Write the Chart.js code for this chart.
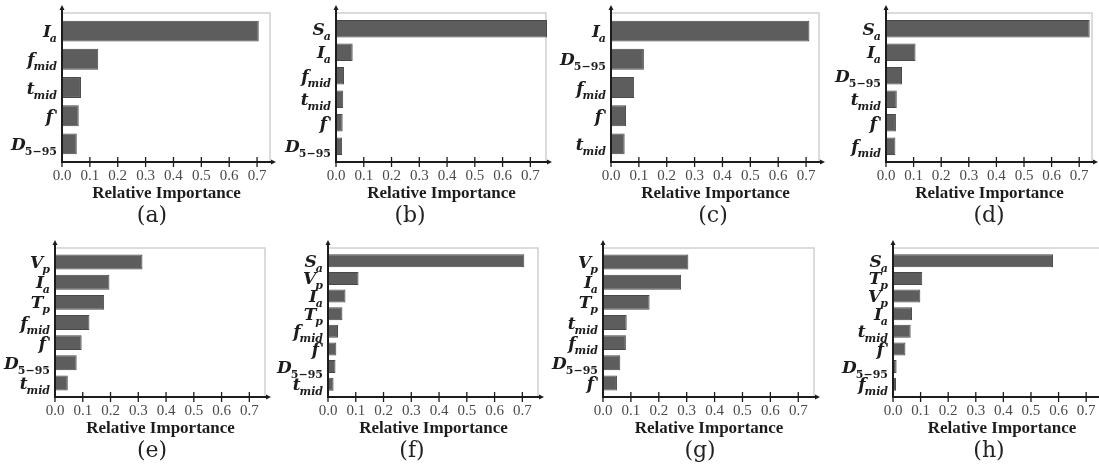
<!DOCTYPE html>
<html>
<head>
<meta charset="utf-8">
<script src="https://cdn.jsdelivr.net/npm/chart.js@4.4.1/dist/chart.umd.min.js"></script>
<style>
  html, body { margin: 0; padding: 0; background: #ffffff; }
  body { position: relative; width: 1099px; height: 469px; overflow: hidden; }
  canvas { position: absolute; }
</style>
</head>
<body>
<script>
// Relative importance of ground-motion features, eight models (a)-(h)
const tickValues = [0, 0.1, 0.2, 0.3, 0.4, 0.5, 0.6, 0.7];
const axisTitle = 'Relative Importance';
const panelTags = ['(a)', '(b)', '(c)', '(d)', '(e)', '(f)', '(g)', '(h)'];

const featuresA = ['I_a', 'f_mid', 't_mid', "f'", 'D_5−95'];
const importanceA = [0.706, 0.130, 0.068, 0.060, 0.053];

const featuresB = ['S_a', 'I_a', 'f_mid', 't_mid', "f'", 'D_5−95'];
const importanceB = [0.760, 0.060, 0.029, 0.026, 0.024, 0.022];

const featuresC = ['I_a', 'D_5−95', 'f_mid', "f'", 't_mid'];
const importanceC = [0.712, 0.118, 0.083, 0.054, 0.049];

const featuresD = ['S_a', 'I_a', 'D_5−95', 't_mid', "f'", 'f_mid'];
const importanceD = [0.738, 0.107, 0.058, 0.039, 0.036, 0.034];

const featuresE = ['V_p', 'I_a', 'T_p', 'f_mid', "f'", 'D_5−95', 't_mid'];
const importanceE = [0.315, 0.196, 0.177, 0.124, 0.096, 0.078, 0.046];

const featuresF = ['S_a', 'V_p', 'I_a', 'T_p', 'f_mid', "f'", 'D_5−95', 't_mid'];
const importanceF = [0.707, 0.110, 0.063, 0.052, 0.036, 0.030, 0.027, 0.020];

const featuresG = ['V_p', 'I_a', 'T_p', 't_mid', 'f_mid', 'D_5−95', "f'"];
const importanceG = [0.306, 0.280, 0.167, 0.085, 0.082, 0.062, 0.050];

const featuresH = ['S_a', 'T_p', 'V_p', 'I_a', 't_mid', "f'", 'D_5−95', 'f_mid'];
const importanceH = [0.580, 0.106, 0.099, 0.069, 0.064, 0.045, 0.013, 0.011];

const featureSets = [featuresA, featuresB, featuresC, featuresD, featuresE, featuresF, featuresG, featuresH];
const importanceSets = [importanceA, importanceB, importanceC, importanceD, importanceE, importanceF, importanceG, importanceH];
const axisMax = [0.75, 0.76, 0.75, 0.75, 0.76, 0.76, 0.76, 0.79];

// Page placement of each panel: y-axis x, row top, pixels per unit on x, caption centre x
const placement = [
  { axisX: 62,  rowTop: 0,   ppu: 279, tagX: 152 },
  { axisX: 336, rowTop: 0,   ppu: 277, tagX: 410 },
  { axisX: 611, rowTop: 0,   ppu: 279, tagX: 713 },
  { axisX: 886, rowTop: 0,   ppu: 276, tagX: 989 },
  { axisX: 55,  rowTop: 235, ppu: 277, tagX: 152 },
  { axisX: 328, rowTop: 235, ppu: 277, tagX: 412 },
  { axisX: 603, rowTop: 235, ppu: 279, tagX: 700 },
  { axisX: 893, rowTop: 235, ppu: 276, tagX: 989 }
];

const PAD_LEFT = 62, PAD_RIGHT = 12, AREA_TOP = 17, AREA_BOTTOM = 158, ROW_H = 235;
const X_BOTTOM = 202.5;          // bottom edge of the x scale box
const TAG_Y = 216;

const INK = '#1c1c1c';
const FRAME = '#d0d0d0';

// Feature name drawn as italic symbol with subscript / prime
function drawFeature(ctx, text, xRight, yMid) {
  const mainFont = 'italic bold 17px "DejaVu Serif"';
  const subItalic = 'italic bold 11px "DejaVu Serif"';
  const subUpright = 'bold 11px "DejaVu Serif"';
  const primeFont = 'bold 13px "DejaVu Serif"';
  let main = text, sub = '', prime = false;
  if (text.endsWith("'")) { main = text.slice(0, -1); prime = true; }
  const k = main.indexOf('_');
  if (k >= 0) { sub = main.slice(k + 1); main = main.slice(0, k); }
  const subFont = /^[0-9]/.test(sub) ? subUpright : subItalic;
  ctx.save();
  ctx.fillStyle = INK;
  ctx.textBaseline = 'alphabetic';
  ctx.textAlign = 'left';
  ctx.font = primeFont;
  const wPrime = prime ? ctx.measureText("'").width + 1 : 0;
  ctx.font = mainFont;
  const wMain = ctx.measureText(main).width;
  ctx.font = subFont;
  const wSub = sub ? ctx.measureText(sub).width : 0;
  let x = xRight - (wMain + wSub + wPrime);
  ctx.font = mainFont;
  ctx.fillText(main, x, yMid + 6);
  x += wMain;
  if (sub) {
    ctx.font = subFont;
    ctx.fillText(sub, x - 1, yMid + 11);
  }
  if (prime) {
    ctx.font = primeFont;
    ctx.fillText("'", x + 1, yMid + 4);
  }
  ctx.restore();
}

// Axes with arrows, crossing tick marks, light frame, feature names and caption
const axesPlugin = {
  id: 'axesPlugin',
  beforeDatasetsDraw(chart) {
    const { ctx, chartArea: a } = chart;
    ctx.save();
    ctx.strokeStyle = FRAME;
    ctx.lineWidth = 1.5;
    ctx.beginPath();
    ctx.moveTo(a.left, a.top - 4);
    ctx.lineTo(a.right - 1, a.top - 4);
    ctx.lineTo(a.right - 1, a.bottom + 4);
    ctx.stroke();
    ctx.restore();
  },
  afterDraw(chart, args, opts) {
    const { ctx, chartArea: a, scales } = chart;
    const xs = scales.x, ys = scales.y;
    const axisY = a.bottom + 4;
    ctx.save();
    ctx.strokeStyle = INK;
    ctx.fillStyle = INK;
    ctx.lineWidth = 2;
    // y axis with arrow
    ctx.beginPath();
    ctx.moveTo(a.left, axisY + 1);
    ctx.lineTo(a.left, a.top - 9);
    ctx.stroke();
    ctx.beginPath();
    ctx.moveTo(a.left, a.top - 12);
    ctx.lineTo(a.left - 2.5, a.top - 7);
    ctx.lineTo(a.left + 2.5, a.top - 7);
    ctx.closePath();
    ctx.fill();
    // x axis with arrow
    ctx.beginPath();
    ctx.moveTo(a.left - 1, axisY);
    ctx.lineTo(a.right + 1, axisY);
    ctx.stroke();
    ctx.beginPath();
    ctx.moveTo(a.right + 5, axisY);
    ctx.lineTo(a.right, axisY - 2.5);
    ctx.lineTo(a.right, axisY + 2.5);
    ctx.closePath();
    ctx.fill();
    // tick marks crossing the axis
    ctx.lineWidth = 1.3;
    xs.ticks.forEach((t, i) => {
      const px = xs.getPixelForTick(i);
      ctx.beginPath();
      ctx.moveTo(px, axisY - 5);
      ctx.lineTo(px, axisY + 5);
      ctx.stroke();
    });
    // panel caption
    ctx.font = '22px "DejaVu Serif"';
    ctx.textAlign = 'center';
    ctx.textBaseline = 'middle';
    ctx.fillStyle = '#222222';
    ctx.fillText(opts.tag, opts.tagX, TAG_Y);
    ctx.restore();
    // feature names
    chart.data.labels.forEach((lab, i) => {
      drawFeature(ctx, lab, a.left - 4, ys.getPixelForValue(i));
    });
  }
};

placement.forEach((p, idx) => {
  const width = Math.round(PAD_LEFT + axisMax[idx] * p.ppu + PAD_RIGHT);
  const canvasLeft = p.axisX - PAD_LEFT;
  const canvas = document.createElement('canvas');
  canvas.width = width;
  canvas.height = ROW_H;
  canvas.style.left = canvasLeft + 'px';
  canvas.style.top = p.rowTop + 'px';
  canvas.style.width = width + 'px';
  canvas.style.height = ROW_H + 'px';
  document.body.appendChild(canvas);

  const xHeight = X_BOTTOM - AREA_BOTTOM;

  new Chart(canvas, {
    type: 'bar',
    data: {
      labels: featureSets[idx],
      datasets: [{
        data: importanceSets[idx],
        backgroundColor: '#5d5d5d',
        borderColor: '#484848',
        borderWidth: 1,
        borderSkipped: false,
        barPercentage: 0.74,
        categoryPercentage: 1
      }]
    },
    options: {
      indexAxis: 'y',
      responsive: false,
      animation: false,
      devicePixelRatio: 1,
      layout: { padding: { left: PAD_LEFT, right: PAD_RIGHT, top: AREA_TOP, bottom: ROW_H - X_BOTTOM } },
      scales: {
        x: {
          type: 'linear',
          min: 0,
          max: axisMax[idx],
          afterBuildTicks: (s) => { s.ticks = tickValues.map(v => ({ value: v })); },
          afterFit: (s) => { s.height = xHeight; },
          grid: { display: false, drawTicks: false },
          border: { display: false },
          ticks: {
            padding: 9,
            color: '#4a4a4a',
            font: { family: '"Liberation Serif"', size: 15 },
            callback: (v) => Number(v).toFixed(1)
          },
          title: {
            display: true,
            text: axisTitle,
            color: INK,
            font: { family: '"Liberation Serif"', size: 17, weight: 'bold', lineHeight: 1 },
            padding: { top: 0, bottom: 0 }
          }
        },
        y: {
          grid: { display: false },
          border: { display: false },
          ticks: { display: false },
          afterFit: (s) => { s.width = 0; }
        }
      },
      plugins: {
        legend: { display: false },
        tooltip: { enabled: false },
        title: { display: false },
        axesPlugin: { tag: panelTags[idx], tagX: p.tagX - canvasLeft }
      }
    },
    plugins: [axesPlugin]
  });
});
</script>
</body>
</html>
